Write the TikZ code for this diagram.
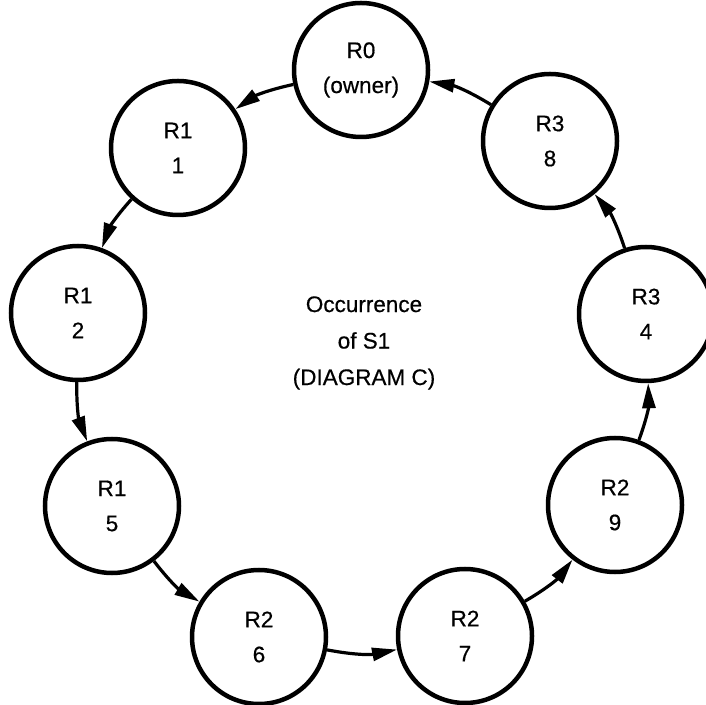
\documentclass[tikz,border=0pt]{standalone}
\usepackage{fontspec}
\setmainfont{Liberation Sans}
\newfontfamily\medfont[FakeBold=0.5]{Liberation Sans}
\usetikzlibrary{arrows.meta}
\begin{document}
\begin{tikzpicture}[x=1pt,y=1pt,
  rec/.style={draw, circle, line width=4.5pt, minimum size=134pt, inner sep=0pt,
    align=center, font=\medfont\fontsize{22.5}{35}\selectfont},
  link/.style={line width=3.2pt, -{Triangle[length=25pt,width=13pt]}, bend right=11},
  caption/.style={align=center, font=\medfont\fontsize{22.5}{36.5}\selectfont}
]
\useasboundingbox (0,0) rectangle (706,704);
\node[rec] (r0)  at (361,634) {R0\\(owner)};
\node[rec] (r1a) at (178,556) {R1\\1};
\node[rec] (r1b) at (78,391)  {R1\\2};
\node[rec] (r1c) at (112,198) {R1\\5};
\node[rec] (r2a) at (259,67)  {R2\\6};
\node[rec] (r2b) at (465,68)  {R2\\7};
\node[rec] (r2c) at (615,199) {R2\\9};
\node[rec] (r3a) at (646,390) {R3\\4};
\node[rec] (r3b) at (550,563) {R3\\8};
\node[caption] (occ) at (364,361) {Occurrence\\of S1\\(DIAGRAM C)};
\draw[link] (r0) to (r1a);
\draw[link] (r1a) to (r1b);
\draw[link] (r1b) to (r1c);
\draw[link] (r1c) to (r2a);
\draw[link] (r2a) to (r2b);
\draw[link] (r2b) to (r2c);
\draw[link] (r2c) to (r3a);
\draw[link] (r3a) to (r3b);
\draw[link] (r3b) to (r0);
\end{tikzpicture}
\end{document}
